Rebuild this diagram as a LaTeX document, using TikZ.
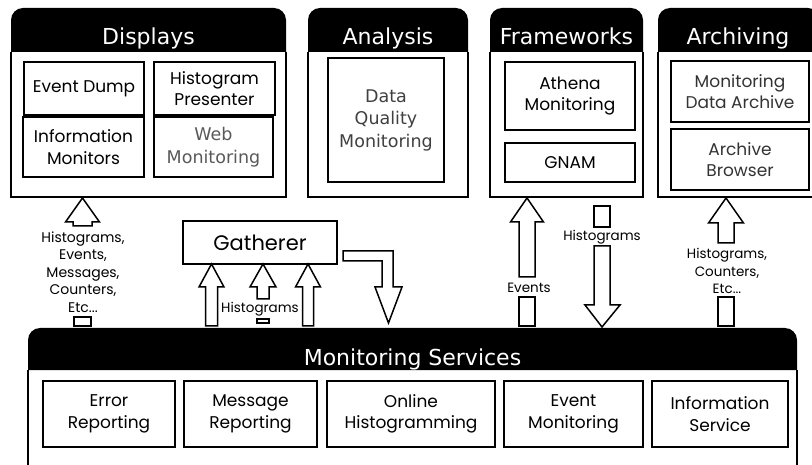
\documentclass[tikz,border=0pt]{standalone}
\usepackage{fontspec}
\newfontfamily\hdrfont{DejaVu Sans}
\newfontfamily\handfont{Poppins}
\newcommand\ibox[7][]{%
  \node[ibox,#1,minimum width={#5pt-#3pt},minimum height={#6pt-#4pt}]
    (#2) at ({(#3+#5)/2},{(#4+#6)/2}) {#7};}
% block arrow pointing up: x, tip y, head half width, head base y, shaft half width, tail y
\newcommand\uparr[6]{%
  \draw[blockarrow] (#1,#2) -- ({#1+#3},#4) -- ({#1+#5},#4) -- ({#1+#5},#6)
    -- ({#1-#5},#6) -- ({#1-#5},#4) -- ({#1-#3},#4) -- cycle;}
% panel with black rounded header: x1, x2, top, header bottom, bottom
\newcommand\panel[5]{%
  \fill[black] (#1,#4) {[rounded corners=12pt] -- (#1,#3) -- (#2,#3)} -- (#2,#4) -- cycle;
  \draw[panelline] (#1,#4) -- (#1,#5) -- (#2,#5) -- (#2,#4);}
\begin{document}
\begin{tikzpicture}[x=1pt,y=-1pt,
  panelline/.style={line width=2pt},
  ibox/.style={draw,line width=1.5pt,inner sep=0pt,align=center,
    font=\handfont\fontsize{17}{21.5}\selectfont},
  vbox/.style={font=\hdrfont\fontsize{17.5}{22.5}\selectfont},
  header/.style={text=white,anchor=base,font=\hdrfont\fontsize{22}{26}\selectfont},
  blockarrow/.style={draw,line width=1.5pt,line join=miter,fill=white},
  tailbox/.style={draw,line width=1.5pt},
  lbl/.style={align=center,inner sep=0pt,font=\handfont\fontsize{13.5}{17.5}\selectfont}]
\useasboundingbox (0,0) rectangle (812,465);
\clip (0,0) rectangle (812,465);

% top row of panels
\panel{11}{286}{8}{52}{197}
\panel{308}{468}{8}{52}{197}
\panel{490}{643}{8}{52}{197}
\panel{658}{820}{8}{52}{197}
\node[header] (hdisp) at (148.5,45) {Displays};
\node[header] (hana)  at (388,45) {Analysis};
\node[header] (hfw)   at (566.5,45) {Frameworks};
\node[header] (harch) at (738,45) {Archiving};

\ibox{evdump}{24}{62}{144}{115}{Event Dump}
\ibox{histpres}{154}{62}{275}{115}{Histogram\\Presenter}
\ibox{infomon}{23}{117}{144}{177}{Information\\Monitors}
\ibox[vbox,text=black!65]{webmon}{154}{117}{273}{177}{Web\\Monitoring}
\ibox[vbox,text=black!75]{dqm}{328}{58}{444}{182}{Data\\Quality\\Monitoring}
\ibox{athena}{505}{62}{635}{130}{Athena\\Monitoring}
\ibox{gnam}{505}{143}{635}{182}{GNAM}
\ibox[text=black!80]{mda}{671}{61}{809}{122}{Monitoring\\Data Archive}
\ibox[text=black!80]{abrowse}{671}{129}{809}{190}{Archive\\Browser}

% monitoring services panel, open at the bottom
\fill[black] (28,370) {[rounded corners=12pt] -- (28,328) -- (797,328)} -- (797,370) -- cycle;
\draw[panelline] (28,370) -- (28,470);
\draw[panelline] (797,370) -- (797,470);
\node[header] (hsvc) at (412.5,365) {Monitoring Services};

\ibox{errrep}{43}{381}{175}{447}{Error\\Reporting}
\ibox{msgrep}{184}{381}{317}{447}{Message\\Reporting}
\ibox{onlhist}{327}{381}{495}{447}{Online\\Histogramming}
\ibox{evmon}{504}{381}{643}{447}{Event\\Monitoring}
\ibox{infosvc}{652}{381}{788}{447}{Information\\Service}

% gatherer
\ibox[font=\handfont\fontsize{21}{24}\selectfont]{gath}{183}{221}{337}{264}{Gatherer}

% data flow to the displays
\uparr{82.5}{198}{17}{222}{9.5}{226}
\node[lbl,font=\handfont\fontsize{14}{17.5}\selectfont] (ldisp) at (83,272)
  {Histograms,\\Events,\\Messages,\\Counters,\\Etc...};
\draw[tailbox] (74,317) rectangle (91,326);

% histograms into the gatherer
\uparr{211.5}{264}{12.5}{287}{6}{326}
\uparr{263}{264}{13}{287}{6}{299}
\uparr{308}{264}{12.5}{287}{5.5}{326}
\node[lbl] (lgath) at (260,309) {Histograms};
\draw[tailbox] (257,319) rectangle (269,323);

% gatherer back to the services
\draw[blockarrow] (343,251) -- (393,251) -- (393,287) -- (402,287) -- (388.5,323)
  -- (375,287) -- (382,287) -- (382,261) -- (343,261) -- cycle;

% events to the frameworks
\uparr{527}{198}{16.5}{222}{8}{277}
\node[lbl] (lev) at (529,288) {Events};
\draw[tailbox] (519,297) rectangle (535,326);

% histograms from the frameworks
\draw[tailbox] (594,206) rectangle (610,227);
\node[lbl] (lfw) at (602,237) {Histograms};
\draw[blockarrow] (594,246) -- (610,246) -- (610,305) -- (620,305) -- (602,327)
  -- (585,305) -- (594,305) -- cycle;

% data to the archive
\uparr{726}{198}{17.5}{223}{8}{243}
\node[lbl] (larch) at (727,271) {Histograms,\\Counters,\\Etc...};
\draw[tailbox] (718,297) rectangle (734,326);
\end{tikzpicture}
\end{document}
